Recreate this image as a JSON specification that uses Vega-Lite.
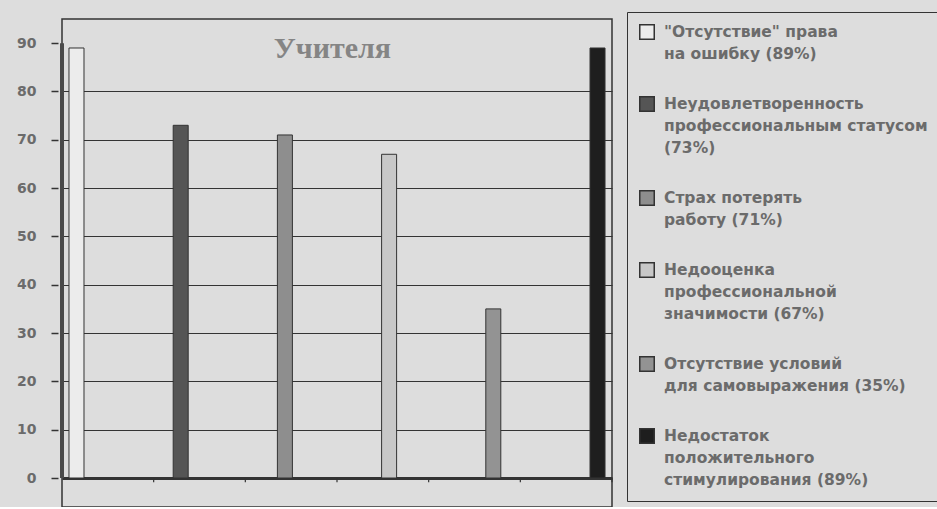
{
  "$schema": "https://vega.github.io/schema/vega-lite/v6.json",
  "width": 550,
  "height": 488,
  "padding": {"left": 16, "top": 11, "right": 0, "bottom": 0},
  "background": "#dddddd",
  "config": {
    "view": {"stroke": "#333333", "strokeWidth": 1.5, "fill": "#dddddd"},
    "style": {"guide-label": {"lineHeight": 22}}
  },
  "datasets": {
    "bars": [
      {"label": "\"Отсутствие\" права\nна ошибку (89%)", "value": 89},
      {"label": "Неудовлетворенность\nпрофессиональным статусом\n(73%)", "value": 73},
      {"label": "Страх потерять\nработу (71%)", "value": 71},
      {"label": "Недооценка\nпрофессиональной\nзначимости (67%)", "value": 67},
      {"label": "Отсутствие условий\nдля самовыражения (35%)", "value": 35},
      {"label": "Недостаток\nположительного\nстимулирования (89%)", "value": 89}
    ],
    "ticks": [{"b": 1}, {"b": 2}, {"b": 3}, {"b": 4}, {"b": 5}, {"b": 6}]
  },
  "layer": [
    {
      "data": {"name": "bars"},
      "mark": {"type": "bar", "stroke": "#333333", "strokeWidth": 1},
      "encoding": {
        "x": {
          "field": "label",
          "type": "nominal",
          "sort": null,
          "axis": null,
          "scale": {"paddingInner": 0.856, "paddingOuter": 0.067}
        },
        "y": {
          "field": "value",
          "type": "quantitative",
          "scale": {"domain": [-6, 95], "nice": false, "zero": false},
          "axis": {
            "title": null,
            "values": [0, 10, 20, 30, 40, 50, 60, 70, 80, 90],
            "domain": false,
            "offset": 4,
            "tickSize": 7,
            "tickColor": "#333333",
            "tickWidth": 1.5,
            "labelPadding": 15,
            "labelFont": "DejaVu Sans",
            "labelFontSize": 14,
            "labelFontWeight": "bold",
            "labelColor": "#6b6b6b",
            "grid": true,
            "gridColor": "#333333",
            "gridWidth": {"condition": {"test": "datum.value === 0", "value": 3}, "value": 1.2},
            "gridOpacity": {"condition": {"test": "datum.value >= 90", "value": 0}, "value": 1}
          }
        },
        "color": {
          "field": "label",
          "type": "nominal",
          "sort": null,
          "scale": {"range": ["#ececec", "#555555", "#8e8e8e", "#c8c8c8", "#939393", "#1e1e1e"]},
          "legend": {
            "title": null,
            "orient": "none",
            "legendX": 565,
            "legendY": -7,
            "padding": 12,
            "strokeColor": "#333333",
            "fillColor": "#dddddd",
            "rowPadding": 30,
            "symbolType": "square",
            "symbolSize": 210,
            "symbolStrokeColor": "#333333",
            "symbolStrokeWidth": 1.5,
            "labelFont": "DejaVu Sans",
            "labelFontSize": 15.5,
            "labelFontWeight": "bold",
            "labelColor": "#6b6b6b",
            "labelBaseline": "middle",
            "labelOffset": 9,
            "labelLimit": 500,
            "labelExpr": "split(datum.label, '\\n')"
          }
        }
      }
    },
    {
      "data": {"name": "ticks"},
      "mark": {"type": "rule", "color": "#333333", "strokeWidth": 1.2},
      "encoding": {
        "x": {"field": "b", "type": "quantitative", "scale": {"domain": [0, 6]}, "axis": null},
        "y": {"datum": 0, "type": "quantitative"},
        "y2": {"datum": -0.9}
      }
    },
    {
      "data": {"values": [{}]},
      "mark": {"type": "rule", "color": "#4a4a4a", "strokeWidth": 4},
      "encoding": {
        "x": {"datum": 0, "type": "quantitative", "scale": {"domain": [0, 6]}, "axis": null},
        "y": {"datum": 0, "type": "quantitative"},
        "y2": {"datum": 90}
      }
    },
    {
      "data": {"values": [{"title": "Учителя"}]},
      "mark": {
        "type": "text",
        "font": "Liberation Serif",
        "fontSize": 30,
        "fontWeight": "bold",
        "color": "#858585",
        "baseline": "alphabetic",
        "align": "center"
      },
      "encoding": {
        "x": {"datum": 2.95, "type": "quantitative", "scale": {"domain": [0, 6]}, "axis": null},
        "y": {"datum": 87, "type": "quantitative"},
        "text": {"field": "title"}
      }
    }
  ],
  "resolve": {"scale": {"x": "independent"}}
}
